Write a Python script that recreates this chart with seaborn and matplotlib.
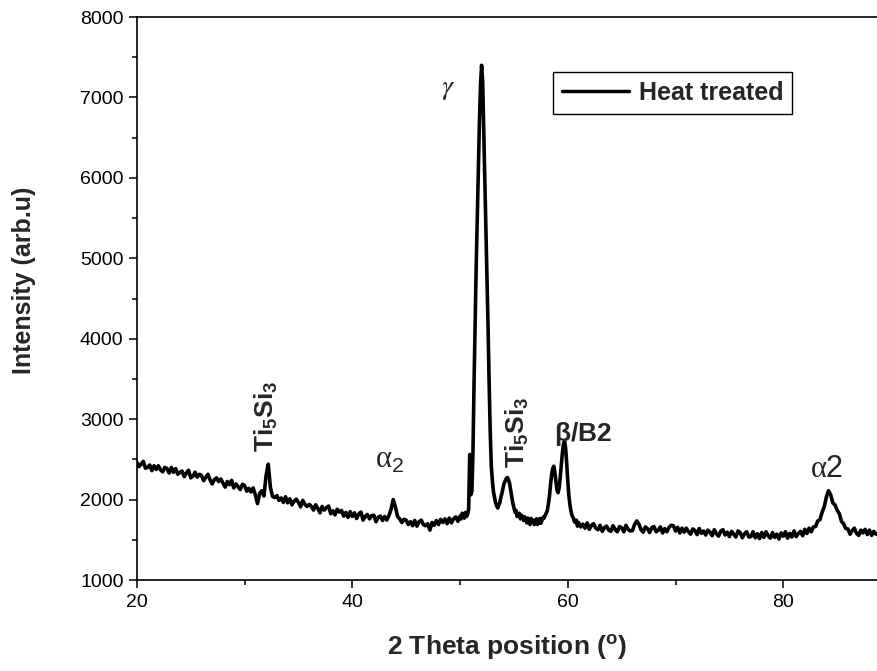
import numpy as np
import pandas as pd
import matplotlib
matplotlib.use('Agg')
import matplotlib.pyplot as plt
from matplotlib.ticker import MultipleLocator
import seaborn as sns

# XRD scan (three scan segments, finer step near the main peaks)
seg_a = [  # 20.0 - 49.8, step 0.2
    2465, 2410, 2440, 2475, 2390,
    2400, 2430, 2360, 2420, 2375,
    2420, 2370, 2345, 2400, 2385,
    2330, 2400, 2340, 2385, 2315,
    2340, 2355, 2285, 2330, 2365,
    2270, 2290, 2340, 2280, 2315,
    2300, 2235, 2275, 2315, 2245,
    2195, 2250, 2270, 2225, 2255,
    2205, 2155, 2225, 2185, 2240,
    2145, 2195, 2160, 2125, 2190,
    2175, 2105, 2140, 2095, 2145,
    2060, 1950, 2075, 2110, 2045,
    2300, 2440, 2150, 2040, 2025,
    2050, 1990, 2020, 1965, 2035,
    1960, 2010, 1935, 1980, 2005,
    1965, 1910, 1990, 1940, 1915,
    1940, 1915, 1870, 1935, 1890,
    1835, 1915, 1870, 1900, 1920,
    1825, 1860, 1810, 1880, 1845,
    1865, 1795, 1840, 1780, 1850,
    1790, 1835, 1765, 1820, 1845,
    1745, 1790, 1815, 1760, 1800,
    1805, 1725, 1780, 1795, 1740,
    1790, 1745, 1800, 1880, 2000,
    1910, 1790, 1760, 1715, 1755,
    1745, 1690, 1725, 1675, 1740,
    1670, 1725, 1745, 1690, 1675,
    1700, 1620, 1715, 1680, 1740,
    1690, 1755, 1715, 1760, 1700,
    1770, 1710, 1760, 1785, 1730,
]
seg_b = [  # 50.0 - 60.9, step 0.1
    1795, 1760, 1830, 1805, 1770, 1840, 1790, 1820, 1880, 2560,
    2060, 2100, 2600, 3450, 4200, 4900, 5500, 6100, 6700, 7150,
    7400, 7200, 6600, 6000, 5450, 4850, 4150, 3450, 2850, 2420,
    2240, 2100, 2030, 1960, 1925, 1895, 1935, 1965, 2035, 2085,
    2150, 2205, 2235, 2265, 2275, 2245, 2200, 2115, 2035, 1955,
    1900, 1845, 1865, 1790, 1820, 1830, 1760, 1805, 1780, 1740,
    1785, 1755, 1710, 1770, 1730, 1690, 1765, 1720, 1745, 1690,
    1735, 1760, 1690, 1720, 1765, 1705, 1740, 1780, 1770, 1805,
    1830, 1865, 1945, 2045, 2185, 2310, 2385, 2415, 2340, 2220,
    2120, 2085, 2150, 2280, 2430, 2580, 2690, 2725, 2640, 2450,
    2230, 2050, 1935, 1855, 1800, 1775, 1730, 1715, 1745, 1670,
]
seg_c = [  # 61.0 - 88.6, step 0.2
    1715, 1660, 1695, 1645, 1710,
    1630, 1680, 1700, 1645, 1625,
    1680, 1605, 1650, 1670, 1620,
    1605, 1675, 1625, 1600, 1665,
    1650, 1600, 1680, 1630, 1610,
    1615, 1690, 1735, 1695, 1625,
    1595, 1660, 1640, 1590, 1650,
    1665, 1600, 1620, 1660, 1585,
    1640, 1600, 1655, 1680, 1675,
    1610, 1655, 1585, 1645, 1595,
    1645, 1600, 1570, 1635, 1615,
    1565, 1640, 1580, 1610, 1560,
    1620, 1595, 1550, 1625, 1575,
    1545, 1610, 1625, 1560, 1595,
    1540, 1605, 1570, 1535, 1610,
    1590, 1525, 1575, 1600, 1535,
    1540, 1600, 1525, 1575, 1515,
    1590, 1530, 1600, 1550, 1520,
    1590, 1530, 1570, 1510, 1585,
    1545, 1600, 1520, 1580, 1535,
    1610, 1540, 1580, 1605, 1550,
    1630, 1580, 1645, 1600, 1660,
    1665, 1735, 1750, 1840, 1910,
    2030, 2110, 2060, 1960, 1935,
    1870, 1825, 1730, 1700, 1640,
    1635, 1570, 1615, 1645, 1580,
    1555, 1620, 1585, 1630, 1565,
    1620, 1555, 1605, 1570,
]

two_theta = np.concatenate([
    20.0 + 0.2 * np.arange(len(seg_a)),
    50.0 + 0.1 * np.arange(len(seg_b)),
    61.0 + 0.2 * np.arange(len(seg_c)),
])
intensity = np.array(seg_a + seg_b + seg_c, dtype=float)
df = pd.DataFrame({'two_theta': two_theta, 'intensity': intensity})

# phase labels (text, x, y, rotation)
bold_labels = [
    (r'$\mathbf{Ti_5Si_3}$', 32.0, 3030, 90),
    (r'$\mathbf{Ti_5Si_3}$', 55.3, 2840, 90),
    (r'$\mathbf{\beta/B2}$', 61.4, 2820, 0),
]
greek_labels = [
    (r'α$_\mathrm{2}$', 43.5, 2490),
    (r'α$\mathrm{2}$', 84.0, 2370),
]

sns.set_style('ticks')
plt.rcParams['font.family'] = ['Liberation Sans', 'DejaVu Sans']
plt.rcParams['mathtext.fontset'] = 'custom'
plt.rcParams['mathtext.rm'] = 'Liberation Sans'
plt.rcParams['mathtext.it'] = 'Liberation Sans:italic'
plt.rcParams['mathtext.bf'] = 'Liberation Sans:bold'

fig = plt.figure(figsize=(8.77, 6.71), dpi=100)
ax = fig.add_axes([0.156, 0.1356, 0.844, 0.839])

sns.lineplot(data=df, x='two_theta', y='intensity', ax=ax, color='black',
             lw=2.6, estimator=None, label='Heat treated')

ax.set_xlim(20, 88.7)
ax.set_ylim(1000, 8000)
ax.xaxis.set_major_locator(MultipleLocator(20))
ax.xaxis.set_minor_locator(MultipleLocator(10))
ax.yaxis.set_major_locator(MultipleLocator(1000))
ax.yaxis.set_minor_locator(MultipleLocator(500))
ax.tick_params(which='major', direction='out', length=6, width=1.1,
               labelsize=14, color='black', labelcolor='black')
ax.tick_params(which='minor', direction='out', length=3.5, width=1.1, color='black')
ax.tick_params(axis='x', pad=4)

for side in ['left', 'bottom', 'top']:
    ax.spines[side].set_linewidth(1.2)
    ax.spines[side].set_color('black')
ax.spines['right'].set_visible(False)

ax.set_xlabel('2 Theta position ($^\\mathregular{o}$)', fontsize=19, fontweight='bold')
ax.set_ylabel('Intensity (arb.u)', fontsize=18, fontweight='bold')
ax.xaxis.set_label_coords(0.5, -0.095)
ax.yaxis.set_label_coords(-0.136, 0.533)

for txt, x, y, rot in bold_labels:
    ax.text(x, y, txt, fontsize=19, rotation=rot, ha='center', va='center')
for txt, x, y in greek_labels:
    ax.text(x, y, txt, fontsize=22, ha='center', va='center',
            family=['Liberation Serif', 'DejaVu Serif'])
ax.text(48.9, 7100, r'$\gamma$', fontsize=20, ha='center', va='center',
        math_fontfamily='stix')

leg = ax.legend(loc='upper left', bbox_to_anchor=(0.562, 0.902), frameon=True,
                fancybox=False, edgecolor='black', framealpha=1,
                prop={'weight': 'bold', 'size': 18}, handlelength=2.7,
                borderpad=0.35, handletextpad=0.4, borderaxespad=0)
leg.get_frame().set_linewidth(1.0)
for line in leg.get_lines():
    line.set_linewidth(2.5)

fig.savefig('out.png', dpi=100)
